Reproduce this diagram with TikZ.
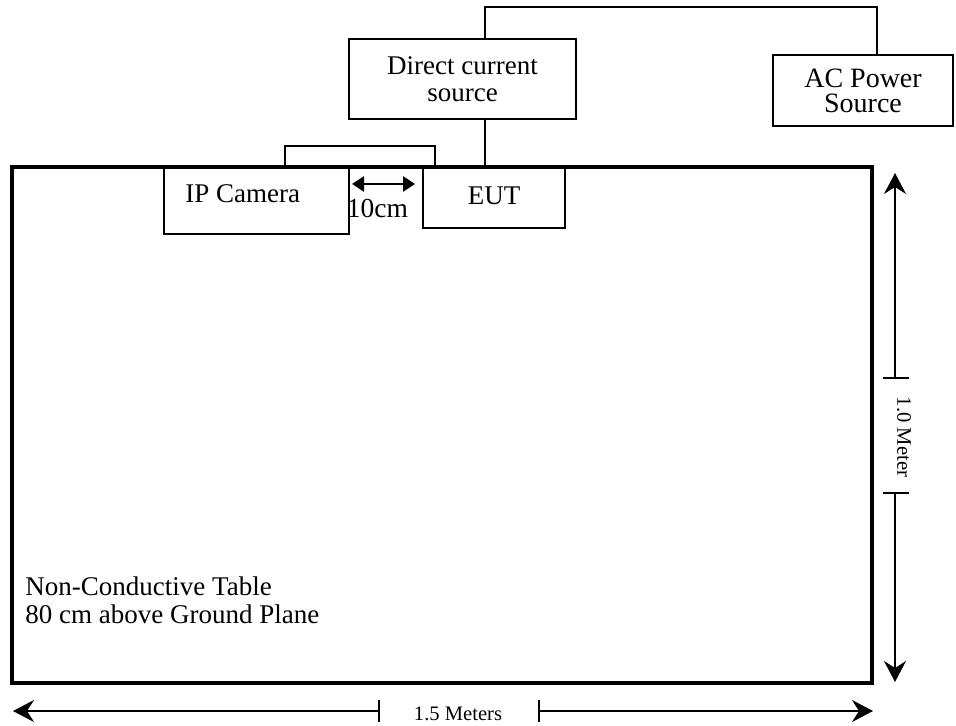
\documentclass[tikz,border=0pt]{standalone}
\usepackage{fontspec}
\setmainfont{Liberation Serif}
\usetikzlibrary{arrows.meta}

\tikzset{
  box/.style={draw, line width=0.9pt, inner sep=0pt, align=center,
    font=\fontsize{13.5}{13.5}\selectfont},
  wire/.style={line width=0.8pt},
  dimline/.style={line width=0.7pt},
  dimarrow/.style={line width=0.7pt, -{Stealth[length=10.5pt,width=11pt,inset=3.5pt]}},
  dimlabel/.style={font=\fontsize{10.3}{10.3}\selectfont, inner sep=0pt}
}

\begin{document}
\begin{tikzpicture}[x=0.5pt,y=-0.5pt]
      % Fix the page size
      \useasboundingbox (0,0) rectangle (956,726);

      % Non-conductive table
      \node[draw, line width=1.6pt, minimum width=430pt, minimum height=258pt, inner sep=0pt] (table) at (442,425) {};
      \node[anchor=base west, align=left, inner sep=0pt, font=\fontsize{13.5}{14}\selectfont] (tablelabel) at (25,623)
        {Non-Conductive Table\\80 cm above Ground Plane};

      % Equipment on the table
      \node[box, minimum width=92.5pt, minimum height=33.5pt] (ipcam) at (256.5,200.5) {};
      \node[anchor=base west, inner sep=0pt, font=\fontsize{13.5}{13.5}\selectfont] (ipcamlabel) at (185,203) {IP Camera};
      \node[box, minimum width=71pt, minimum height=30.5pt] (eut) at (494,197.5) {\raisebox{1.5pt}{EUT}};

      % Power sources
      \node[box, minimum width=113.5pt, minimum height=40pt] (dcsrc) at (462.5,79) {Direct current\\source};
      \node[box, minimum width=90pt, minimum height=35.5pt, font=\fontsize{14}{12.5}\selectfont] (acsrc) at (863,90.5) {AC Power\\Source};

      % Cable between camera and EUT
      \draw[wire] (285,167) -- (285,146) -- (435,146) -- (435,167);

      % Spacing of 10 cm
      \coordinate (gapl) at (352,184);
      \coordinate (gapr) at (415,184);
      \draw[line width=1.4pt, {Triangle[length=6pt,width=7.5pt]}-{Triangle[length=6pt,width=7.5pt]}] (gapl) -- (gapr);
      \node[anchor=base, inner sep=0pt, font=\fontsize{13.75}{13.75}\selectfont] (gaplabel) at (377.5,218) {10cm};

      % Supply wires
      \coordinate (wire) at (485,7);
      \coordinate (acin) at (877,7);
      \draw[wire] (wire |- table.north) -- (wire |- dcsrc.south);
      \draw[wire] (wire |- dcsrc.north) -- (wire) -- (acin) -- (acin |- acsrc.north);

      % Depth of the table: 1.0 Meter
      \coordinate (vtop) at (895,173);
      \coordinate (vbot) at (895,682);
      \coordinate (vtick1) at (895,378);
      \coordinate (vtick2) at (895,493);
      \draw[dimarrow] (vtick1) -- (vtop);
      \draw[dimarrow] (vtick2) -- (vbot);
      \draw[dimline] ([xshift=-6pt]vtick1) -- ([xshift=7pt]vtick1);
      \draw[dimline] ([xshift=-6pt]vtick2) -- ([xshift=7pt]vtick2);
      \node[dimlabel, rotate=-90] (vlabel) at (904,437) {1.0 Meter};

      % Width of the table: 1.5 Meters
      \coordinate (hleft) at (13,711);
      \coordinate (hright) at (873,711);
      \coordinate (htick1) at (379,711);
      \coordinate (htick2) at (539,711);
      \draw[dimarrow] (htick1) -- (hleft);
      \draw[dimarrow] (htick2) -- (hright);
      \draw[dimline] ([yshift=5.5pt]htick1) -- ([yshift=-5.5pt]htick1);
      \draw[dimline] ([yshift=5.5pt]htick2) -- ([yshift=-5.5pt]htick2);
      \node[dimlabel, anchor=base] (hlabel) at (458,720) {1.5 Meters};
\end{tikzpicture}
\end{document}
